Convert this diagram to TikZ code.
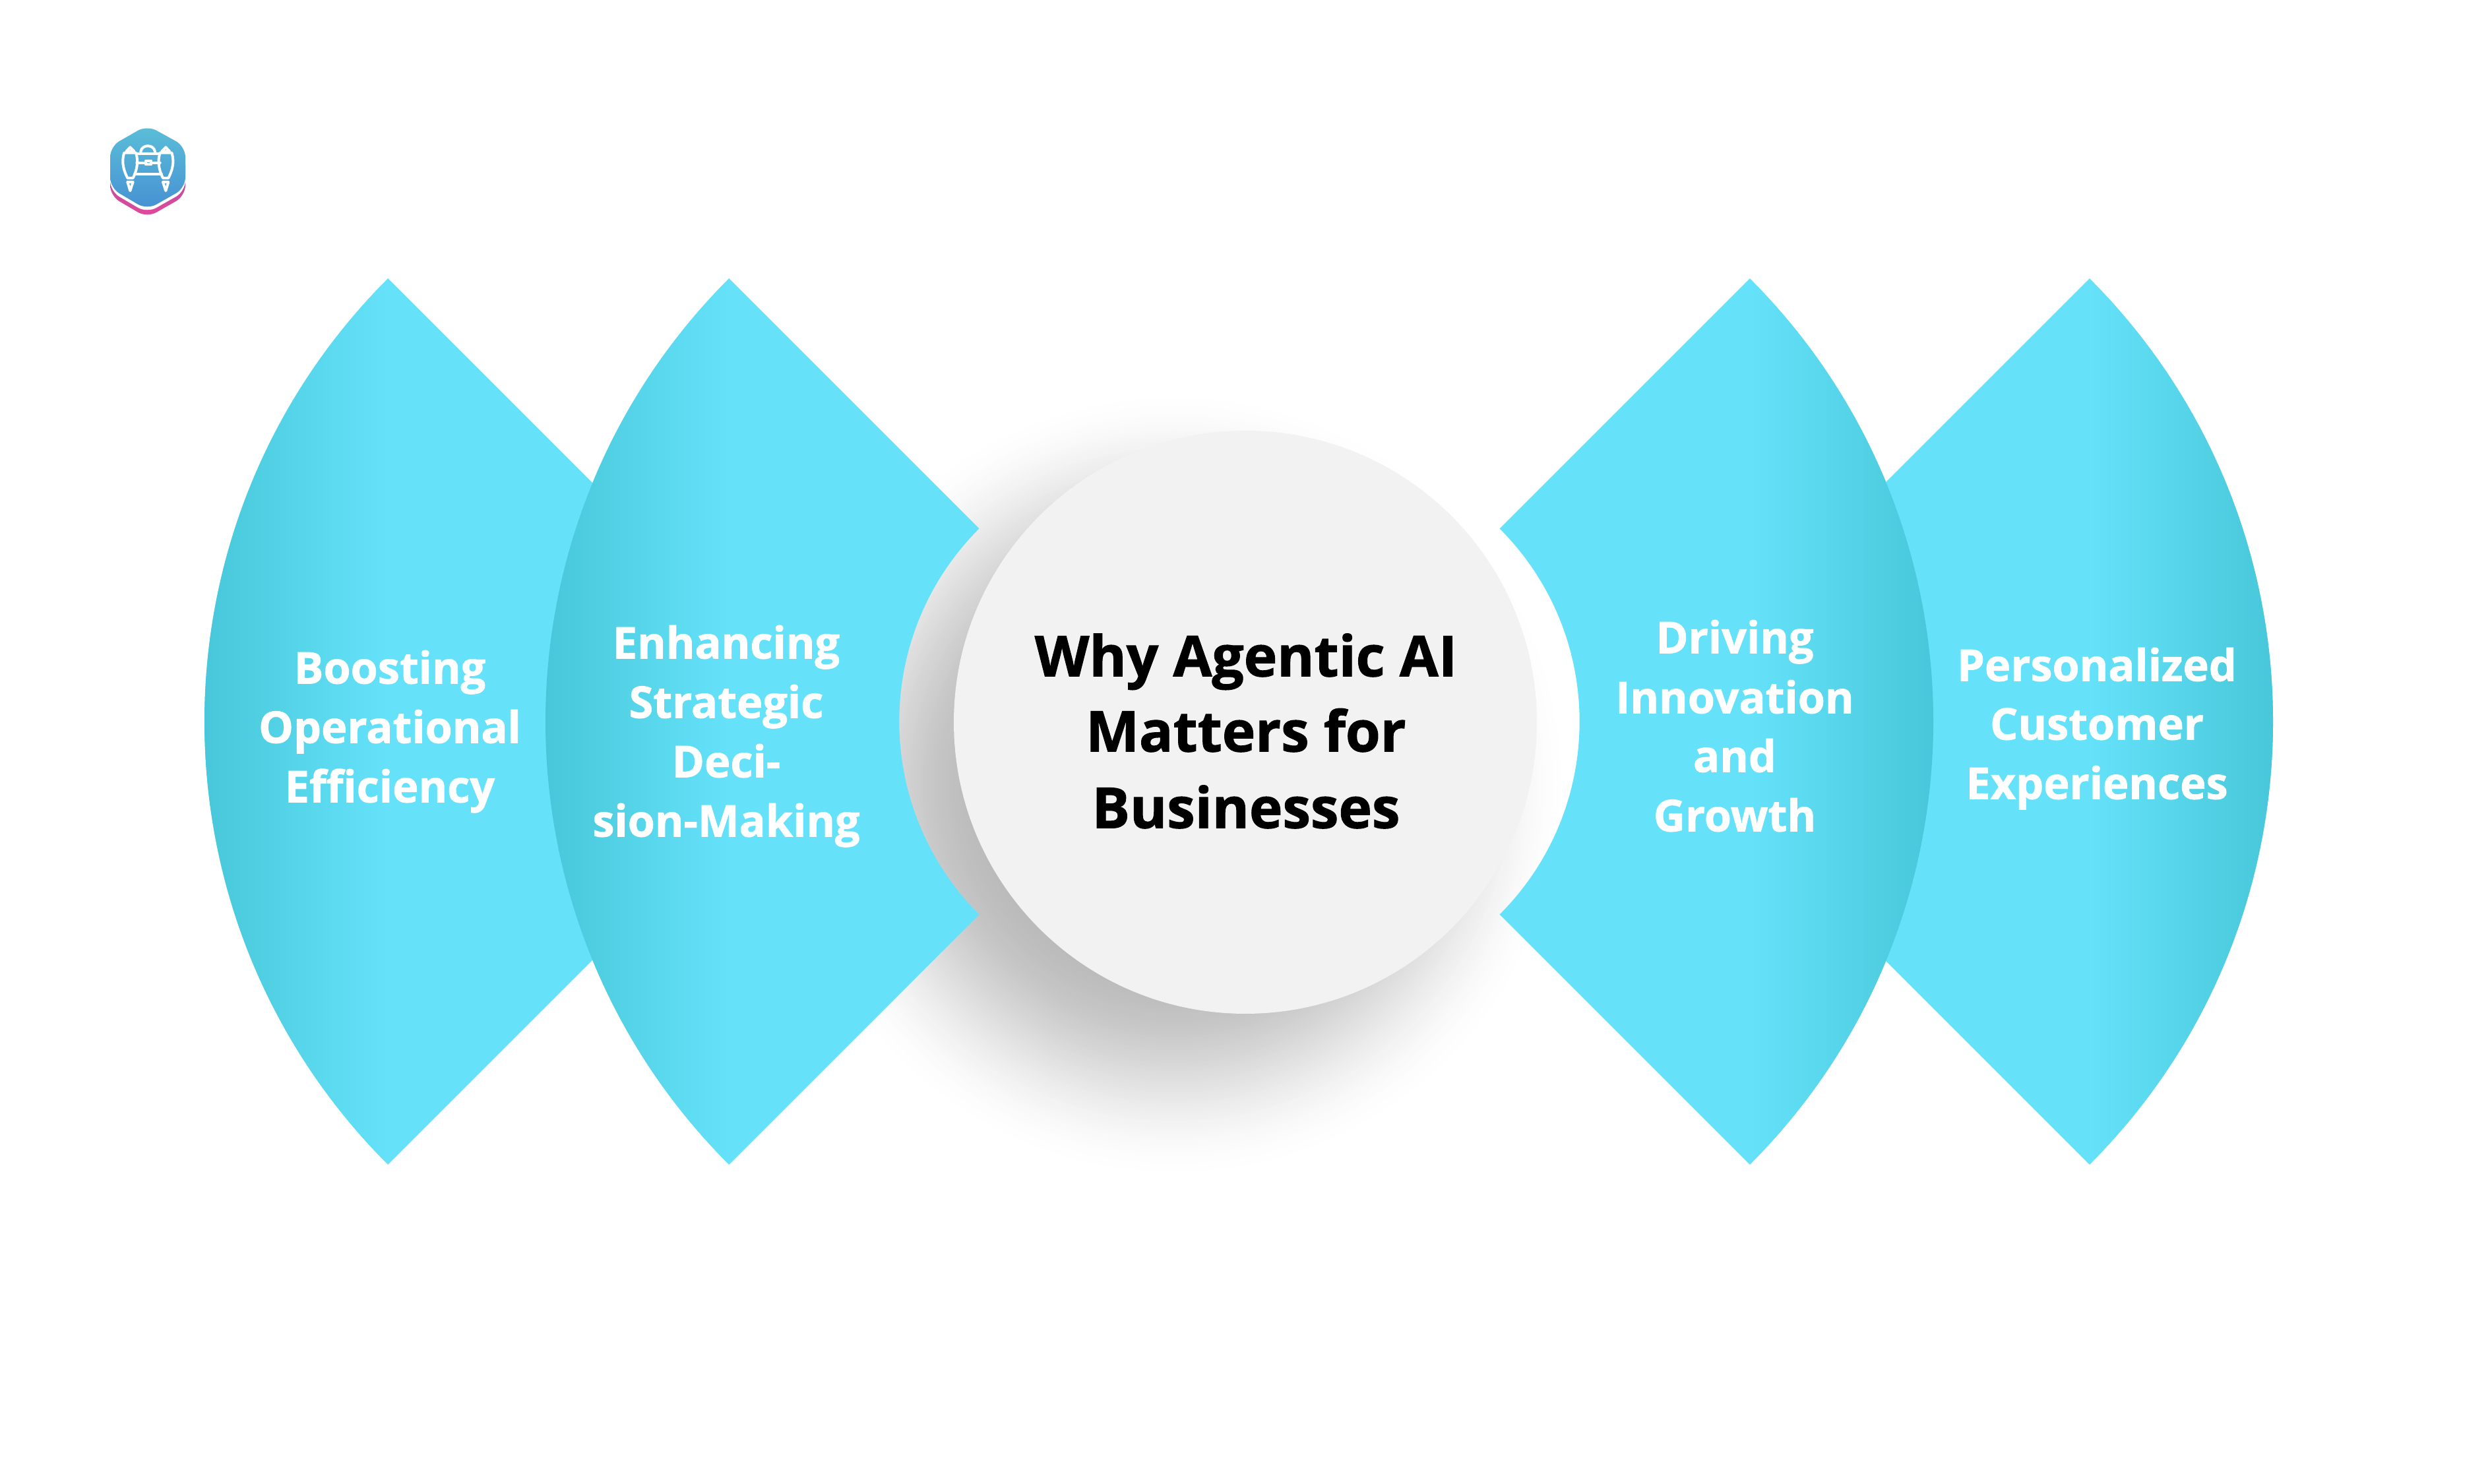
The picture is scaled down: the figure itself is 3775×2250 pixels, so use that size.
\documentclass[tikz,border=0pt]{standalone}
\usepackage{fontspec}
\setmainfont{Open Sans}[BoldFeatures={FakeBold=1.2}]
\definecolor{leafbright}{HTML}{65E2FA}
\definecolor{leafdark}{HTML}{47C7D9}
\definecolor{discfill}{HTML}{F2F2F2}
\definecolor{logotop}{HTML}{5BBFD8}
\definecolor{logobottom}{HTML}{4690D3}
\definecolor{bandtop}{HTML}{8A5BA8}
\definecolor{bandbottom}{HTML}{E4479A}
\tikzset{
  x=1pt,y=1pt,
  lefttext/.style={text=white,font=\fontsize{66.5}{90}\selectfont\bfseries,align=center,inner sep=0pt,anchor=base,yshift=-0.5pt},
  maintext/.style={text=black,font=\fontsize{85.5}{115}\selectfont\bfseries,align=center,inner sep=0pt,anchor=base,yshift=-0.5pt,xshift=3pt},
  iconline/.style={draw=white,line width=4pt,line join=round,line cap=round}
}
\newcommand{\leafpath}{(135:950) arc[start angle=135,end angle=225,radius=950] -- (225:413.7) arc[start angle=225,end angle=135,radius=413.7] -- cycle}
\newcommand{\leaf}[4]{%
  \begin{scope}[shift={(#1,1156)},xscale=#2]
    \begin{scope}
      \clip \leafpath;
      \fill[leafbright] (-960,-700) rectangle (0,700);
      \shade[left color=#3,middle color=leafdark!82!leafbright,right color=#4] (-952,-700) rectangle (-672,700);
    \end{scope}
  \end{scope}}
\newcommand{\hexa}[1]{(223,{2250-190-#1}) -- (281,{2250-222-#1}) -- (281,{2250-285-#1}) -- (223,{2250-318-#1}) -- (167,{2250-285-#1}) -- (167,{2250-222-#1}) -- cycle}
\begin{document}
\begin{tikzpicture}
\useasboundingbox (0,0) rectangle (3775,2250);
\fill[white] (0,0) rectangle (3775,2250);
% shadow: concentric discs, a smooth fade to white
\foreach \r in {602,598,...,280}{
  \pgfmathsetmacro{\tt}{(\r-280)/322}
  \pgfmathsetmacro{\g}{27*(1-\tt*\tt*(3-2*\tt))}
  \fill[black!\g!white] (1780,1060) circle (\r);
}
% leaves
\leaf{1260}{1}{leafdark}{leafbright}
\leaf{1777}{1}{leafdark}{leafbright}
\leaf{2496}{-1}{leafbright}{leafdark}
\leaf{1981}{-1}{leafbright}{leafdark}
% disc
\fill[discfill] (1888,1155) circle (442);
% logo
\begin{scope}[rounded corners=16pt]
\shade[top color=bandtop,bottom color=bandbottom] \hexa{12};
\fill[white] \hexa{5};
\shade[top color=logotop,bottom color=logobottom] \hexa{0};
\end{scope}
% icon
\begin{scope}[shift={(130,2100)},x=0.3333pt,y=-0.3333pt,iconline]
  \draw (202,220) -- (185,238) -- (220,238) -- cycle;
  \draw (175,245) .. controls (160,290) and (175,330) .. (190,360) -- (215,360) .. controls (235,320) and (240,280) .. (228,245) -- cycle;
  \draw (190,378) -- (202,418) -- (215,378) -- cycle;
  \draw (364,220) -- (346,238) -- (381,238) -- cycle;
  \draw (338,245) .. controls (326,280) and (331,320) .. (351,360) -- (376,360) .. controls (391,330) and (406,290) .. (391,245) -- cycle;
  \draw (351,378) -- (364,418) -- (376,378) -- cycle;
  \draw (235,250) -- (335,250);
  \draw (232,290) -- (270,290) (298,290) -- (338,290);
  \draw (222,342) -- (345,342);
  \draw (250,240) .. controls (255,205) and (310,205) .. (315,240);
  \draw (272,282) rectangle (298,298);
\end{scope}
% texts
\node[lefttext] (a1) at (591,{2250-1036}) {Boosting};
\node[lefttext] (a2) at (591,{2250-1126}) {Operational};
\node[lefttext] (a3) at (591,{2250-1216}) {Efficiency};
\node[lefttext] (b1) at (1101,{2250-998}) {Enhancing};
\node[lefttext] (b2) at (1101,{2250-1088}) {Strategic};
\node[lefttext] (b3) at (1101,{2250-1178}) {Deci-};
\node[lefttext] (b4) at (1101,{2250-1268}) {sion-Making};
\node[lefttext] (c1) at (2630,{2250-990}) {Driving};
\node[lefttext] (c2) at (2630,{2250-1081}) {Innovation};
\node[lefttext] (c3) at (2630,{2250-1170}) {and};
\node[lefttext] (c4) at (2630,{2250-1260}) {Growth};
\node[lefttext] (d1) at (3179,{2250-1032}) {Personalized};
\node[lefttext] (d2) at (3179,{2250-1121}) {Customer};
\node[lefttext] (d3) at (3179,{2250-1211}) {Experiences};
\node[maintext] (m1) at (1886,{2250-1025}) {Why Agentic AI};
\node[maintext] (m2) at (1886,{2250-1139}) {Matters for};
\node[maintext] (m3) at (1886,{2250-1255}) {Businesses};
\end{tikzpicture}
\end{document}
